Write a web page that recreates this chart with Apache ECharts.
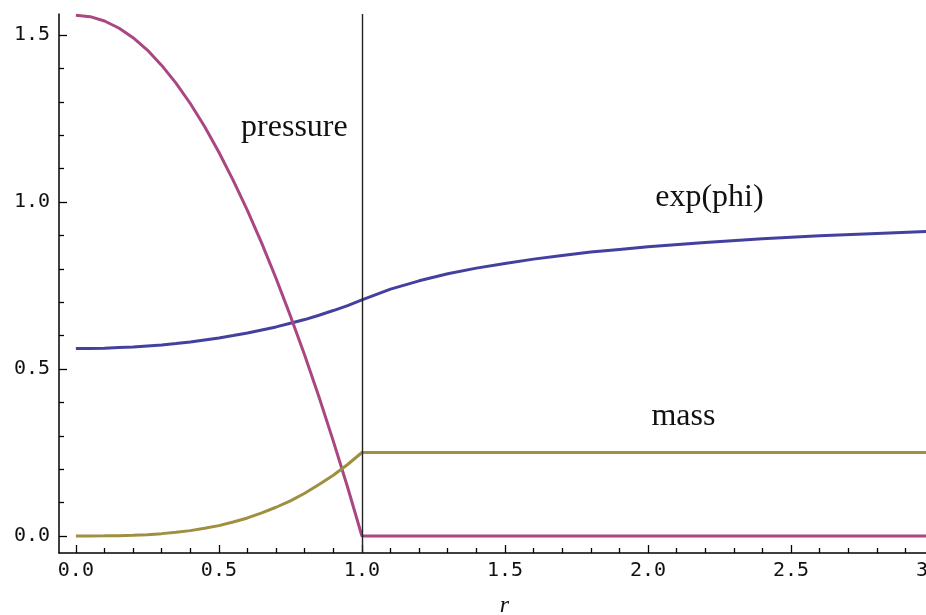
<!DOCTYPE html>
<html>
<head>
<meta charset="utf-8">
<title>pressure / exp(phi) / mass</title>
<script src="https://cdn.jsdelivr.net/npm/echarts@6/dist/echarts.min.js"></script>
<style>
  html, body { margin: 0; padding: 0; background: #fff; overflow: hidden; }
  #chart { width: 926px; height: 615px; }
</style>
</head>
<body>
<div id="chart"></div>
<script>
// radius samples (shared by all three curves)
const radius = [
  0, 0.05, 0.1, 0.15, 0.2, 0.25, 0.3, 0.35, 0.4, 0.45, 0.5,
  0.55, 0.6, 0.65, 0.7, 0.75, 0.8, 0.85, 0.9, 0.95, 1.0,
  1.1, 1.2, 1.3, 1.4, 1.5, 1.6, 1.7, 1.8, 1.9, 2.0,
  2.2, 2.4, 2.6, 2.8, 3.0
]

const pressure = [
  1.559, 1.555, 1.542, 1.521, 1.492, 1.455, 1.409, 1.356, 1.295, 1.226, 1.149,
  1.065, 0.974, 0.876, 0.771, 0.659, 0.541, 0.416, 0.284, 0.146, 0,
  0, 0, 0, 0, 0, 0, 0, 0, 0, 0,
  0, 0, 0, 0, 0
]

const expPhi = [
  0.561, 0.561, 0.562, 0.564, 0.566, 0.569, 0.572, 0.576, 0.581, 0.587, 0.593,
  0.600, 0.608, 0.617, 0.626, 0.637, 0.648, 0.661, 0.675, 0.690, 0.707,
  0.739, 0.764, 0.785, 0.802, 0.816, 0.829, 0.840, 0.850, 0.858, 0.866,
  0.879, 0.890, 0.899, 0.906, 0.913
]

const mass = [
  0, 0.0000, 0.0003, 0.0008, 0.002, 0.004, 0.007, 0.011, 0.016, 0.023, 0.031,
  0.042, 0.054, 0.069, 0.086, 0.105, 0.128, 0.154, 0.182, 0.214, 0.25,
  0.25, 0.25, 0.25, 0.25, 0.25, 0.25, 0.25, 0.25, 0.25, 0.25,
  0.25, 0.25, 0.25, 0.25, 0.25
]

// tick positions
const xMajorTicks = [0, 0.5, 1.0, 1.5, 2.0, 2.5, 3.0]
const xMinorTicks = [0.1, 0.2, 0.3, 0.4, 0.6, 0.7, 0.8, 0.9, 1.1, 1.2, 1.3, 1.4,
  1.6, 1.7, 1.8, 1.9, 2.1, 2.2, 2.3, 2.4, 2.6, 2.7, 2.8, 2.9]
const yMajorTicks = [0, 0.5, 1.0, 1.5]
const yMinorTicks = [0.1, 0.2, 0.3, 0.4, 0.6, 0.7, 0.8, 0.9, 1.1, 1.2, 1.3, 1.4]

// curve labels: [text, r, value]
const curveLabels = [
  ['pressure', 0.764, 1.222],
  ['exp(phi)', 2.215, 1.012],
  ['mass', 2.124, 0.356]
]

const boundary = 1.0

const colors = {
  expPhi: '#4341a0',
  pressure: '#aa4782',
  mass: '#9e9040'
}

const tickFont = { fontFamily: 'DejaVu Sans Mono', fontSize: 20, color: '#111' }
const serif = 'Liberation Serif'

function pairs(values) {
  return radius.map((r, i) => [r, values[i]])
}

function labelPoint(name) {
  const l = curveLabels.find(c => c[0] === name)
  return {
    silent: true,
    symbol: 'circle',
    symbolSize: 0,
    label: {
      show: true,
      position: 'inside',
      formatter: l[0],
      fontFamily: serif,
      fontSize: 32,
      color: '#111'
    },
    data: [{ coord: [l[1], l[2]] }]
  }
}

const xMin = -0.059, xMax = 3.0
const yMin = -0.051, yMax = 1.563

const chart = echarts.init(document.getElementById('chart'))

// plot runs a little past the right edge, like the original (3.0 is cut off)
chart.setOption({
  animation: false,
  grid: { left: 59, width: 875, top: 14, bottom: 62, outerBoundsMode: 'none', containLabel: false },
  xAxis: [
    {
      type: 'value', min: xMin, max: xMax,
      name: 'r', nameLocation: 'middle', nameGap: 41,
      nameTextStyle: { fontFamily: serif, fontStyle: 'italic', fontSize: 24, color: '#111', padding: [0, 0, 0, 16] },
      axisLine: { onZero: false, lineStyle: { color: '#000', width: 1.5 } },
      axisTick: { inside: true, length: 8, customValues: xMajorTicks, lineStyle: { color: '#000', width: 1.3 } },
      axisLabel: { customValues: xMajorTicks, margin: 8, formatter: v => v.toFixed(1), ...tickFont },
      splitLine: { show: false }
    },
    {
      type: 'value', min: xMin, max: xMax, position: 'bottom',
      axisLine: { show: false, onZero: false },
      axisTick: { inside: true, length: 5, customValues: xMinorTicks, lineStyle: { color: '#000', width: 1.3 } },
      axisLabel: { show: false },
      splitLine: { show: false }
    }
  ],
  yAxis: [
    {
      type: 'value', min: yMin, max: yMax,
      axisLine: { show: true, onZero: false, lineStyle: { color: '#000', width: 1.5 } },
      axisTick: { show: true, inside: true, length: 8, customValues: yMajorTicks, lineStyle: { color: '#000', width: 1.3 } },
      axisLabel: { customValues: yMajorTicks, margin: 9, formatter: v => v.toFixed(1), ...tickFont },
      splitLine: { show: false }
    },
    {
      type: 'value', min: yMin, max: yMax, position: 'left',
      axisLine: { show: false, onZero: false },
      axisTick: { show: true, inside: true, length: 5, customValues: yMinorTicks, lineStyle: { color: '#000', width: 1.3 } },
      axisLabel: { show: false },
      splitLine: { show: false }
    }
  ],
  series: [
    {
      name: 'exp(phi)',
      type: 'line',
      showSymbol: false,
      data: pairs(expPhi),
      lineStyle: { color: colors.expPhi, width: 3 },
      itemStyle: { color: colors.expPhi },
      markPoint: labelPoint('exp(phi)')
    },
    {
      name: 'pressure',
      type: 'line',
      showSymbol: false,
      data: pairs(pressure),
      lineStyle: { color: colors.pressure, width: 3 },
      itemStyle: { color: colors.pressure },
      markPoint: labelPoint('pressure'),
      // star surface
      markLine: {
        silent: true,
        symbol: 'none',
        label: { show: false },
        lineStyle: { color: '#222', width: 1.4, type: 'solid' },
        data: [{ xAxis: boundary }]
      }
    },
    {
      name: 'mass',
      type: 'line',
      showSymbol: false,
      data: pairs(mass),
      lineStyle: { color: colors.mass, width: 3 },
      itemStyle: { color: colors.mass },
      markPoint: labelPoint('mass')
    }
  ]
})
</script>
</body>
</html>
